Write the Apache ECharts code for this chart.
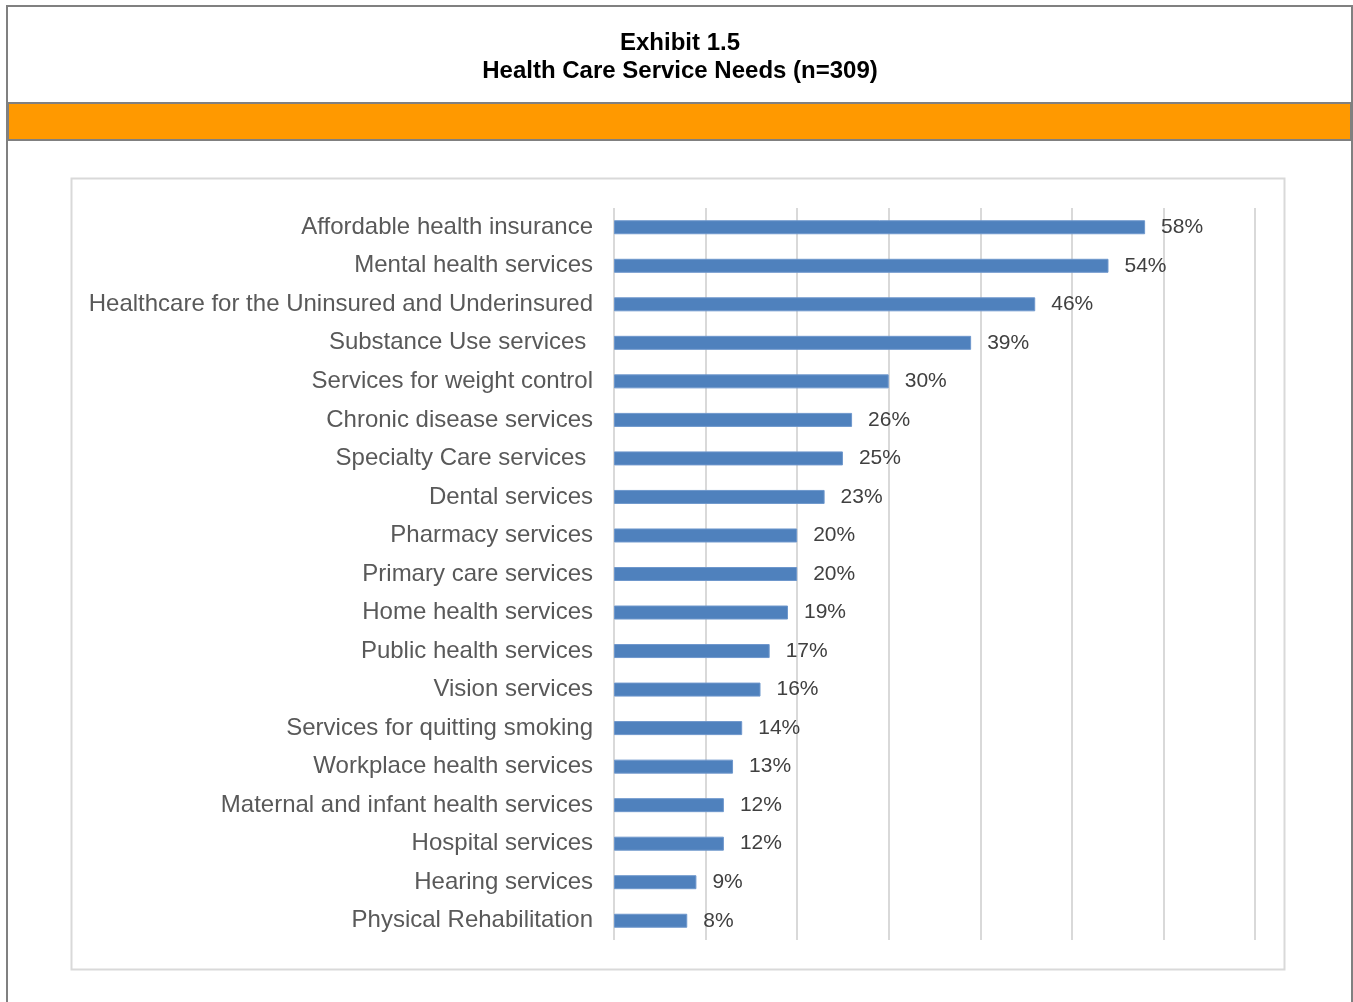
<!DOCTYPE html>
<html><head><meta charset="utf-8">
<script src="https://cdn.jsdelivr.net/npm/echarts@6/dist/echarts.min.js"></script>
<style>html,body{margin:0;padding:0;background:#fff}#c{width:1353px;height:1002px}</style>
</head><body><div id="c"></div>
<script>
const categories = [
  "Affordable health insurance",
  "Mental health services",
  "Healthcare for the Uninsured and Underinsured",
  "Substance Use services ",
  "Services for weight control",
  "Chronic disease services",
  "Specialty Care services ",
  "Dental services",
  "Pharmacy services",
  "Primary care services",
  "Home health services",
  "Public health services",
  "Vision services",
  "Services for quitting smoking",
  "Workplace health services",
  "Maternal and infant health services",
  "Hospital services",
  "Hearing services",
  "Physical Rehabilitation"
];
const values = [58, 54, 46, 39, 30, 26, 25, 23, 20, 20, 19, 17, 16, 14, 13, 12, 12, 9, 8];
const titleLines = ["Exhibit 1.5", "Health Care Service Needs (n=309)"];

const chart = echarts.init(document.getElementById('c'), null, {renderer:'canvas'});
const font = '"Liberation Sans", Arial, sans-serif';
chart.setOption({
  animation: false,
  textStyle: {fontFamily: font},
  graphic: [
    {type:'rect', shape:{x:7,y:6,width:1345,height:1010}, style:{fill:'#fff', stroke:'#808080', lineWidth:2}, z:-10},
    {type:'rect', shape:{x:8,y:103,width:1343,height:37}, style:{fill:'#FF9900', stroke:'#808080', lineWidth:2}, z:-9},
    {type:'rect', shape:{x:71.5,y:178.5,width:1213,height:791}, style:{fill:'#fff', stroke:'#D9D9D9', lineWidth:2}, z:-8}
  ],
  title: {
    text: titleLines.join('\n'),
    left: 675, top: 24, textAlign: 'center',
    textStyle: {fontFamily: font, fontSize: 24, fontWeight: 'bold', color: '#000', lineHeight: 28}
  },
  grid: {left: 614, top: 208, width: 641, height: 732, containLabel: false},
  xAxis: {
    type: 'value', min: 0, max: 70, interval: 10,
    axisLabel: {show: false}, axisTick: {show: false}, axisLine: {show: false},
    splitLine: {show: true, lineStyle: {color: '#D9D9D9', width: 2}}
  },
  yAxis: {
    type: 'category', data: categories, inverse: true,
    axisLine: {show: false}, axisTick: {show: false},
    axisLabel: {fontFamily: font, fontSize: 24, color: '#595959', margin: 21}
  },
  series: [{
    type: 'bar', data: values, barWidth: 14,
    itemStyle: {color: '#4F81BD', borderColor: '#6E97CC', borderWidth: 1},
    label: {show: true, position: 'right', distance: 16, formatter: '{c}%',
      fontFamily: font, fontSize: 21, color: '#404040'}
  }]
});
</script></body></html>
